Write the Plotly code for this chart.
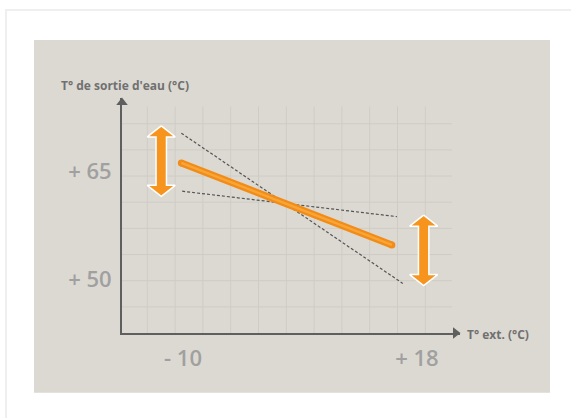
import numpy as np
import plotly.graph_objects as go

# ---------------- data (°C) ----------------
x_tick_vals = [-10, 18]
x_tick_text = ["- 10", "+ 18"]
y_tick_vals = [50, 65]
y_tick_text = ["+ 50", "+ 65"]

curve_x = [-10.2, 15.0]          # main heating curve
curve_y = [66.1, 54.8]
steep_x = [-10.2, 16.3]          # steep dashed curve
steep_y = [70.2, 49.5]
flat_x = [-10.1, 15.6]           # flat dashed curve
flat_y = [62.2, 58.7]

arrow_x = [-12.6, 18.8]          # adjustment range arrows
arrow_top = [71.2, 58.9]
arrow_bottom = [61.5, 49.2]

y_title = "T° de sortie d'eau (°C)"
x_title = "T° ext. (°C)"

# ---------------- layout geometry ----------------
W, H = 571, 418
L, R, T, B = 122, 111, 98, 85
x_range = [-17.30, 23.15]
y_range = [42.665, 75.045]
pw, ph = W - L - R, H - T - B
sx = pw / (x_range[1] - x_range[0])   # px per unit x
sy = ph / (y_range[1] - y_range[0])   # px per unit y

ORANGE = "#F7941D"
AXIS = "#5f5f5f"
GRID = "#cfccc5"
BG = "#dcd9d2"

fig = go.Figure()

# grid (drawn as thin lines)
gx = x_range[0] + (25.3 + 27.8 * np.arange(11)) / sx
gy = y_range[0] + 26.16 * np.arange(1, 9) / sy
g_top = y_range[0] + (333.3 - 106.7) / sy
g_right = x_range[0] + 330 / sx
vx, vy = [], []
for v in gx:
    vx += [v, v, None]
    vy += [y_range[0], g_top, None]
for v in gy:
    vx += [x_range[0], g_right, None]
    vy += [v, v, None]
fig.add_trace(go.Scatter(x=vx, y=vy, mode="lines",
                         line=dict(color=GRID, width=1), hoverinfo="skip"))

# dashed curves
for xs, ys in [(steep_x, steep_y), (flat_x, flat_y)]:
    fig.add_trace(go.Scatter(x=xs, y=ys, mode="lines",
                             line=dict(color="#555555", width=1.2, dash="3px,2px"),
                             hoverinfo="skip"))

# main curve
fig.add_trace(go.Scatter(x=curve_x, y=curve_y, mode="lines+markers",
                         line=dict(color="#F28C18", width=7),
                         marker=dict(color="#F28C18", size=7, line=dict(width=0)),
                         hoverinfo="skip", cliponaxis=False))
fig.add_trace(go.Scatter(x=curve_x, y=curve_y, mode="lines",
                         line=dict(color="#F9A535", width=2.5),
                         hoverinfo="skip", cliponaxis=False))

# double arrows
hw, sw, hh = 14 / sx, 5.2 / sx, 11 / sy
for cx, yt, yb in zip(arrow_x, arrow_top, arrow_bottom):
    px = [cx, cx + hw, cx + sw, cx + sw, cx + hw, cx, cx - hw, cx - sw, cx - sw, cx - hw, cx]
    py = [yt, yt - hh, yt - hh, yb + hh, yb + hh, yb, yb + hh, yb + hh, yt - hh, yt - hh, yt]
    fig.add_trace(go.Scatter(x=px, y=py, mode="lines", fill="toself",
                             fillcolor=ORANGE, line=dict(color="white", width=1.5),
                             hoverinfo="skip", cliponaxis=False))

# axis arrowheads
fig.add_trace(go.Scatter(x=[x_range[1] - 4.5 / sx], y=[y_range[0]], mode="markers",
                         marker=dict(symbol="triangle-right", size=10, color=AXIS),
                         cliponaxis=False, hoverinfo="skip"))
fig.add_trace(go.Scatter(x=[x_range[0]], y=[y_range[1] - 4.5 / sy], mode="markers",
                         marker=dict(symbol="triangle-up", size=10, color=AXIS),
                         cliponaxis=False, hoverinfo="skip"))

def paper_x(p):
    return (p - L) / pw

def paper_y(p):
    return (H - B - p) / ph

# background panel + card
fig.add_shape(type="rect", xref="paper", yref="paper",
              x0=paper_x(6), x1=paper_x(580), y0=paper_y(430), y1=paper_y(10),
              line=dict(color="#efefef", width=2), fillcolor="white", layer="below")
fig.add_shape(type="rect", xref="paper", yref="paper",
              x0=paper_x(34), x1=paper_x(550), y0=paper_y(392.7), y1=paper_y(40),
              line=dict(width=0), fillcolor=BG, layer="below")

fig.add_annotation(text=y_title, xref="paper", yref="paper",
                   x=paper_x(59), y=paper_y(85.5), xanchor="left", yanchor="middle",
                   showarrow=False,
                   font=dict(family="Open Sans", size=12, color="#707070", weight=700))
fig.add_annotation(text=x_title, xref="paper", yref="paper",
                   x=paper_x(465), y=paper_y(334), xanchor="left", yanchor="middle",
                   showarrow=False,
                   font=dict(family="Open Sans", size=12, color="#707070", weight=700))

tickfont = dict(family="Open Sans", size=22, color="#a0a0a0", weight=600)
fig.update_xaxes(range=x_range, showgrid=False, zeroline=False, showline=True,
                 linecolor=AXIS, linewidth=2, tickmode="array",
                 tickvals=x_tick_vals, ticktext=x_tick_text, ticks="outside",
                 ticklen=5, tickcolor="rgba(0,0,0,0)", tickfont=tickfont)
fig.update_yaxes(range=y_range, showgrid=False, zeroline=False, showline=True,
                 linecolor=AXIS, linewidth=2, tickmode="array",
                 tickvals=y_tick_vals, ticktext=y_tick_text, ticks="outside",
                 ticklen=4, tickcolor="rgba(0,0,0,0)", tickfont=tickfont)

fig.update_layout(width=W, height=H, margin=dict(l=L, r=R, t=T, b=B),
                  paper_bgcolor="white", plot_bgcolor="rgba(0,0,0,0)",
                  showlegend=False)

fig.write_html("out.html", config={"displayModeBar": False},
               post_script="document.body.style.margin='0';")
